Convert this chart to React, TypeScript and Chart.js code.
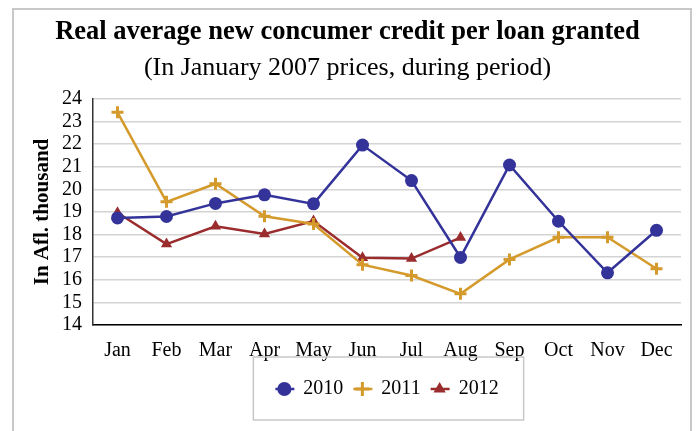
import React, { useEffect, useRef } from "react";
import { Chart, registerables } from "chart.js";

Chart.register(...registerables);

const months = ["Jan", "Feb", "Mar", "Apr", "May", "Jun", "Jul", "Aug", "Sep", "Oct", "Nov", "Dec"];
const values2010 = [18.74, 18.8, 19.38, 19.76, 19.36, 21.96, 20.39, 16.99, 21.08, 18.59, 16.31, 18.19];
const values2011 = [23.41, 19.45, 20.25, 18.81, 18.47, 16.67, 16.19, 15.38, 16.9, 17.88, 17.88, 16.49];
const values2012 = [18.97, 17.58, 18.37, 18.03, 18.6, 16.98, 16.94, 17.87, null, null, null, null];
const yMin = 14;
const yMax = 24;

const titleText = "Real average new concumer credit per loan granted";
const subtitleText = "(In January 2007 prices, during period)";
const yAxisTitle = "In Afl. thousand";

const FONT = "'Liberation Serif', 'Times New Roman', serif";
const BLUE = "#333399";
const GOLD = "#d49a2c";
const RED = "#9b2c2e";

const framePlugin = {
  id: "frame",
  beforeDraw(chart: any) {
    const ctx = chart.ctx;
    ctx.save();
    ctx.fillStyle = "#ffffff";
    ctx.fillRect(0, 0, chart.width, chart.height);
    ctx.strokeStyle = "#c8c8c8";
    ctx.lineWidth = 2;
    ctx.strokeRect(13, 9, 678, chart.height + 20);
    ctx.restore();
  },
  afterDraw(chart: any) {
    const legend = chart.legend;
    if (!legend || !legend.legendHitBoxes || !legend.legendHitBoxes.length) return;
    const boxes = legend.legendHitBoxes;
    const ctx = chart.ctx;
    const minX = Math.min(...boxes.map((b: any) => b.left));
    const maxX = Math.max(...boxes.map((b: any) => b.left + b.width));
    const cy = boxes[0].top + boxes[0].height / 2;
    ctx.save();
    ctx.strokeStyle = "#c8c8c8";
    ctx.lineWidth = 1.5;
    ctx.strokeRect(minX - 22, cy - 32, maxX - minX + 22 + 25, 63);
    // short line segments through legend markers
    const colors = [BLUE, GOLD, RED];
    const bw = legend.options.labels.boxWidth;
    boxes.forEach((b: any, i: number) => {
      const y = b.top + b.height / 2;
      const cx = b.left + bw / 2;
      ctx.strokeStyle = colors[i];
      ctx.lineWidth = 2.5;
      ctx.beginPath();
      ctx.moveTo(cx - 9, y);
      ctx.lineTo(cx + 10, y);
      ctx.stroke();
    });
    ctx.restore();
  },
};

export default function App() {
  const ref = useRef<HTMLCanvasElement | null>(null);
  useEffect(() => {
    if (!ref.current) return;
    const chart = new Chart(ref.current, {
      type: "line",
      data: {
        labels: months,
        datasets: [
          {
            label: "2010",
            data: values2010,
            borderColor: BLUE,
            backgroundColor: BLUE,
            borderWidth: 2.5,
            pointStyle: "circle",
            pointRadius: 6.5,
            pointBorderWidth: 0,
            tension: 0,
          },
          {
            label: "2011",
            data: values2011,
            borderColor: GOLD,
            backgroundColor: GOLD,
            borderWidth: 2.5,
            pointStyle: "cross",
            pointRadius: 6,
            pointBorderWidth: 3,
            tension: 0,
          },
          {
            label: "2012",
            data: values2012,
            borderColor: RED,
            backgroundColor: RED,
            borderWidth: 2.5,
            pointStyle: "triangle",
            pointRadius: 6.5,
            pointBorderWidth: 0,
            tension: 0,
          },
        ],
      },
      options: {
        responsive: false,
        animation: false,
        devicePixelRatio: 1,
        layout: { padding: { top: 14, left: 14, right: 16, bottom: 22 } },
        plugins: {
          title: {
            display: true,
            text: titleText,
            color: "#000",
            font: { family: FONT, size: 26.5, weight: "bold" },
            padding: { top: 2, bottom: 5 },
          },
          subtitle: {
            display: true,
            text: subtitleText,
            color: "#000",
            font: { family: FONT, size: 26, weight: "normal" },
            padding: { top: 0, bottom: 15 },
          },
          legend: {
            position: "bottom",
            fullSize: false,
            labels: {
              usePointStyle: true,
              boxWidth: 18,
              boxHeight: 10,
              color: "#000",
              font: { family: FONT, size: 20 },
              padding: 10,
            },
          },
          tooltip: { enabled: false },
        },
        scales: {
          x: {
            offset: true,
            grid: { display: false, drawTicks: false, offset: true },
            border: { display: true, color: "#000", width: 1.5 },
            ticks: { color: "#000", font: { family: FONT, size: 20 }, padding: 14, maxRotation: 0, autoSkip: false },
            afterFit(scale: any) {
              scale.height = 44;
            },
          },
          y: {
            min: yMin,
            max: yMax,
            grid: { color: "#d4d4d4", lineWidth: 1.5, drawTicks: false },
            border: { display: true, color: "#333", width: 1.5 },
            ticks: { stepSize: 1, autoSkip: false, color: "#000", font: { family: FONT, size: 20 }, padding: 11 },
            title: {
              display: true,
              text: yAxisTitle,
              color: "#000",
              font: { family: FONT, size: 21, weight: "bold" },
              padding: { top: 16, bottom: 0 },
            },
            afterFit(scale: any) {
              scale.width = 79;
            },
          },
        },
      },
      plugins: [framePlugin],
    } as any);
    return () => chart.destroy();
  }, []);
  return (
    <div style={{ position: "absolute", left: 0, top: 0, width: 697, height: 431 }}>
      <canvas ref={ref} width={697} height={431} />
    </div>
  );
}
